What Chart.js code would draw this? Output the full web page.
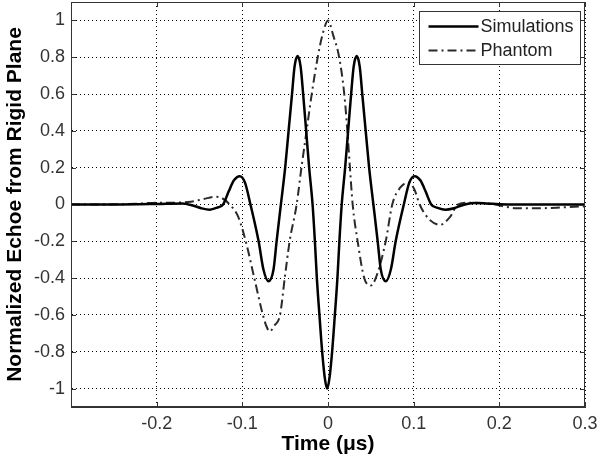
<!DOCTYPE html>
<html><head><meta charset="utf-8">
<script src="https://cdn.jsdelivr.net/npm/chart.js@4"></script>
<style>html,body{margin:0;padding:0;background:#fff;}#wrap{width:601px;height:464px;}</style>
</head><body><div id="wrap"><canvas id="c" width="601" height="464"></canvas></div>
<script>
// ---- data ----
const seriesLabels = ['Simulations', 'Phantom'];
const simTime  = [-0.300,-0.250,-0.200,-0.170,-0.158,-0.148,-0.138,-0.130,-0.1225,-0.116,-0.110,-0.103,-0.097,-0.0905,-0.081,-0.0755,-0.0695,-0.0635,-0.060,-0.055,-0.050,-0.046,-0.042,-0.0390,-0.0355,-0.0320,-0.029,-0.0255,-0.022,-0.018,-0.0153,-0.013,-0.010,-0.0068,-0.0035,-0.001,0.0015,0.0048,0.008,0.011,0.0133,0.016,0.020,0.0235,0.027,0.0300,0.0335,0.0370,0.040,0.044,0.048,0.053,0.058,0.0615,0.0675,0.0735,0.079,0.0885,0.095,0.101,0.108,0.114,0.1205,0.128,0.137,0.147,0.157,0.170,0.185,0.200,0.250,0.300];
const simValue = [0,0,0.003,0.006,-0.005,-0.02,-0.028,-0.018,0,0.07,0.13,0.154,0.12,0,-0.2,-0.35,-0.417,-0.35,-0.2,0,0.2,0.4,0.6,0.75,0.806,0.75,0.6,0.4,0.2,0,-0.2,-0.4,-0.6,-0.8,-0.95,-1.0,-0.95,-0.8,-0.6,-0.4,-0.2,0,0.2,0.4,0.6,0.75,0.806,0.75,0.6,0.4,0.2,0,-0.2,-0.35,-0.417,-0.35,-0.2,0,0.12,0.154,0.13,0.07,0,-0.018,-0.028,-0.02,-0.004,0.008,0.006,0.002,0,0];
const phanTime  = [-0.300,-0.260,-0.220,-0.200,-0.180,-0.160,-0.145,-0.132,-0.124,-0.1147,-0.105,-0.096,-0.086,-0.076,-0.072,-0.068,-0.063,-0.056,-0.0505,-0.0448,-0.0366,-0.031,-0.025,-0.019,-0.012,-0.006,0.000,0.006,0.013,0.019,0.0226,0.0256,0.0288,0.0346,0.0423,0.050,0.0557,0.0674,0.075,0.084,0.094,0.101,0.107,0.118,0.131,0.142,0.152,0.165,0.190,0.205,0.220,0.250,0.275,0.300];
const phanValue = [0,0,0.005,0.01,0.01,0.015,0.03,0.042,0.035,0,-0.065,-0.2,-0.4,-0.6,-0.66,-0.69,-0.66,-0.6,-0.4,-0.2,0,0.2,0.4,0.6,0.8,0.93,1.0,0.92,0.8,0.6,0.4,0.2,0,-0.2,-0.4,-0.44,-0.4,-0.2,0,0.09,0.12,0.08,0,-0.08,-0.11,-0.07,0,0.01,0.005,-0.01,-0.02,-0.02,-0.015,-0.01];
const xTicks = [-0.2,-0.1,0,0.1,0.2,0.3];
const yTicks = [-1,-0.8,-0.6,-0.4,-0.2,0,0.2,0.4,0.6,0.8,1];
const xRange = [-0.3, 0.3];
const yRange = [-1.1, 1.1];
const xTitle = 'Time (\u03bcs)';
const yTitle = 'Normalized Echoe from Rigid Plane';

const FONT = "'Liberation Sans', Arial, Helvetica, sans-serif";
const fmt = v => String(Math.round(v * 10) / 10);

const frame = {
  id: 'frame',
  afterDraw(chart) {
    const {ctx, chartArea: a} = chart;
    const xs = chart.scales.x, ys = chart.scales.y;
    ctx.save();
    ctx.strokeStyle = '#333';
    ctx.lineWidth = 1;
    ctx.setLineDash([]);
    ctx.strokeRect(Math.round(a.left) + 0.5, Math.round(a.top) + 0.5, Math.round(a.right - a.left) - 1, Math.round(a.bottom - a.top) - 1);
    ctx.beginPath();
    const L = 5;
    xTicks.forEach(v => {
      const p = Math.round(xs.getPixelForValue(v)) + 0.5;
      ctx.moveTo(p, a.bottom); ctx.lineTo(p, a.bottom - L);
      ctx.moveTo(p, a.top); ctx.lineTo(p, a.top + L);
    });
    yTicks.forEach(v => {
      const p = Math.round(ys.getPixelForValue(v)) + 0.5;
      ctx.moveTo(a.left, p); ctx.lineTo(a.left + L, p);
      ctx.moveTo(a.right, p); ctx.lineTo(a.right - L, p);
    });
    ctx.stroke();
    // legend
    const w = 161, h = 53;
    const bx = Math.round(a.right - 5 - w) + 0.5, by = Math.round(a.top + 9) + 0.5;
    ctx.fillStyle = '#fff';
    ctx.fillRect(bx, by, w, h);
    ctx.strokeStyle = '#333';
    ctx.strokeRect(bx, by, w, h);
    chart.data.datasets.forEach((ds, i) => {
      const yy = by + 15 + i * 24;
      ctx.beginPath();
      ctx.strokeStyle = ds.borderColor;
      ctx.lineWidth = ds.borderWidth;
      ctx.setLineDash(ds.borderDash || []);
      ctx.moveTo(bx + 9, yy); ctx.lineTo(bx + 59, yy);
      ctx.stroke();
      ctx.setLineDash([]);
      ctx.fillStyle = '#222';
      ctx.font = '18px ' + FONT;
      ctx.textBaseline = 'middle';
      ctx.textAlign = 'left';
      ctx.fillText(ds.label, bx + 61, yy + 1);
    });
    ctx.restore();
  }
};

new Chart(document.getElementById('c'), {
  type: 'line',
  data: {
    datasets: [
      {
        label: seriesLabels[0],
        data: simTime.map((t, i) => ({x: t, y: simValue[i]})),
        borderColor: '#000', borderWidth: 2.5, pointRadius: 0,
        cubicInterpolationMode: 'monotone', fill: false
      },
      {
        label: seriesLabels[1],
        data: phanTime.map((t, i) => ({x: t, y: phanValue[i]})),
        borderColor: '#2a2a2a', borderWidth: 2, borderDash: [9, 4, 2, 4], pointRadius: 0,
        cubicInterpolationMode: 'monotone', fill: false
      }
    ]
  },
  options: {
    responsive: false, animation: false, devicePixelRatio: 1,
    layout: {padding: {left: 0, right: 16, top: 2, bottom: 0}},
    plugins: {legend: {display: false}, tooltip: {enabled: false}},
    scales: {
      x: {
        type: 'linear', min: xRange[0], max: xRange[1],
        afterBuildTicks: s => { s.ticks = xTicks.map(v => ({value: v})); },
        afterFit: s => { s.height = 57; s.paddingLeft = 0; s.paddingRight = 0; },
        ticks: {callback: fmt, font: {family: FONT, size: 18}, color: '#333', padding: 6, maxRotation: 0, autoSkip: false},
        grid: {color: '#000', lineWidth: 1, drawTicks: false},
        border: {display: true, color: '#333', width: 1, dash: [1, 3]},
        title: {display: true, text: xTitle, font: {family: FONT, size: 21, weight: 'bold'}, color: '#000', padding: {top: 0, bottom: 7}}
      },
      y: {
        type: 'linear', min: yRange[0], max: yRange[1],
        afterBuildTicks: s => { s.ticks = yTicks.map(v => ({value: v})); },
        afterFit: s => { s.width = 71; s.paddingTop = 0; s.paddingBottom = 0; },
        ticks: {callback: fmt, font: {family: FONT, size: 18}, color: '#333', padding: 6, autoSkip: false},
        grid: {color: '#000', lineWidth: 1, drawTicks: false},
        border: {display: true, color: '#333', width: 1, dash: [1, 3]},
        title: {display: true, text: yTitle, font: {family: FONT, size: 21, weight: 'bold'}, color: '#000', padding: {top: 3, bottom: 0}}
      }
    }
  },
  plugins: [frame]
});
</script>
</body></html>
